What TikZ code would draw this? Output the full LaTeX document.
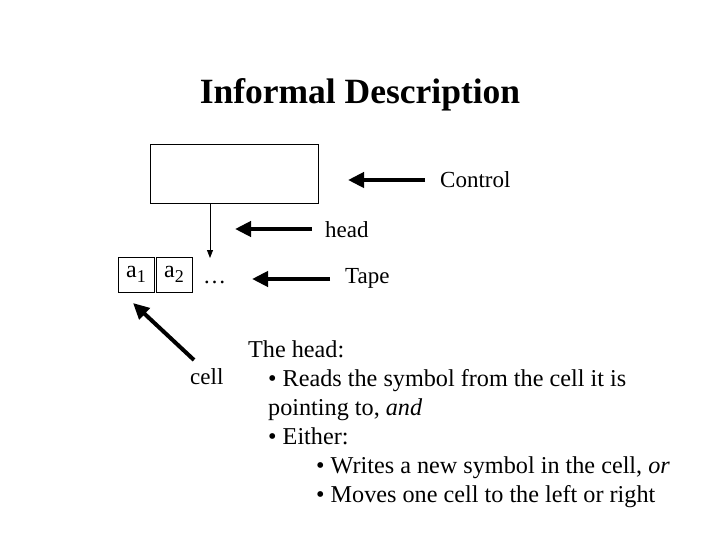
\documentclass[tikz,border=0pt]{standalone}
\usepackage{fontspec}
\setmainfont{Liberation Serif}
\usetikzlibrary{arrows.meta}
\begin{document}
\begin{tikzpicture}[x=1pt,y=-1pt,
  big/.style={line width=4pt,-{Triangle[length=16pt,width=15pt]}},
  lbl/.style={inner sep=0pt,anchor=west,font=\fontsize{23}{27}\selectfont},
  cellbox/.style={draw,line width=0.7pt,minimum width=36pt,minimum height=35pt,inner sep=0pt,font=\fontsize{24}{28}\selectfont}]
\useasboundingbox (0,0) rectangle (720,540);
\node[font=\fontsize{35.5}{40}\selectfont\bfseries] (title) at (360,95) {Informal Description};
\node[draw,line width=0.7pt,minimum width=168pt,minimum height=59pt] (ctrl) at (234,173.5) {};
\node[cellbox] (c1) at (136,274.5) {\raisebox{-4pt}{a{\fontsize{18}{20}\selectfont\raisebox{-5pt}{1}}}};
\node[cellbox] (c2) at (174,274.5) {\raisebox{-4pt}{a{\fontsize{18}{20}\selectfont\raisebox{-5pt}{2}}}};
\node[lbl] (dots) at (203,282) {\dots};
\coordinate (hs) at (210,203.5);
\coordinate (he) at (210,258);
\draw[line width=0.8pt,-{Triangle[length=8pt,width=6pt]}] (hs) -- (he);
\node[lbl] (control) at (440,180) {Control};
\node[lbl] (head) at (325,230) {head};
\node[lbl] (tape) at (345,278) {Tape};
\node[lbl] (cell) at (190,377) {cell};
\coordinate (a1) at (425,180); \coordinate (b1) at (348,180);
\coordinate (a2) at (312,229); \coordinate (b2) at (235,229);
\coordinate (a3) at (330,279); \coordinate (b3) at (252,279);
\coordinate (a4) at (194,360); \coordinate (b4) at (133,303);
\draw[big] (a1) -- (b1);
\draw[big] (a2) -- (b2);
\draw[big] (a3) -- (b3);
\draw[big] (a4) -- (b4);
\node[lbl,anchor=north west,align=left,font=\fontsize{24.2}{29}\selectfont] (txt) at (248,341) {The head:\\
\hspace*{20pt}• Reads the symbol from the cell it is\\
\hspace*{20pt}pointing to, \textit{and}\\
\hspace*{20pt}• Either:\\
\hspace*{68pt}• Writes a new symbol in the cell, \textit{or}\\
\hspace*{68pt}• Moves one cell to the left or right};
\end{tikzpicture}
\end{document}
